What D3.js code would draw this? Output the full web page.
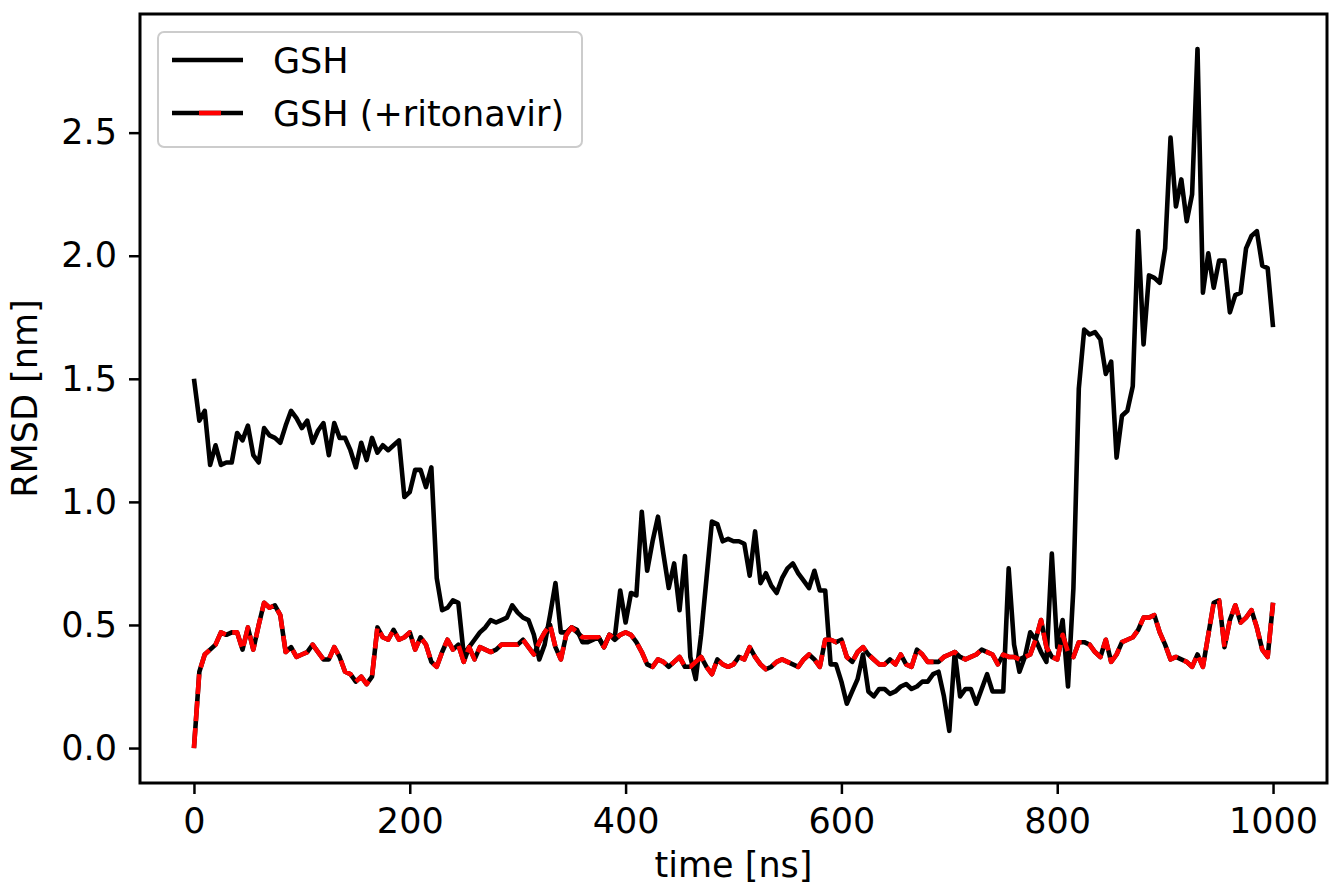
<!DOCTYPE html>
<html>
<head>
<meta charset="utf-8">
<script src="https://cdn.jsdelivr.net/npm/d3@7"></script>
<style>
  body { margin: 0; background: #fff; }
  text { font-family: "DejaVu Sans", sans-serif; }
</style>
</head>
<body>
<script>
// time axis: one sample every 5 ns
var timeStep = 5;
var xTicks = [0, 200, 400, 600, 800, 1000];
var yTicks = [0.0, 0.5, 1.0, 1.5, 2.0, 2.5];
var seriesNames = ['GSH', 'GSH (+ritonavir)'];

var gsh = [
  1.50, 1.33, 1.37, 1.15, 1.23, 1.15, 1.16, 1.16, 1.28, 1.25,
  1.31, 1.19, 1.16, 1.30, 1.27, 1.26, 1.24, 1.31, 1.37, 1.34,
  1.30, 1.33, 1.24, 1.29, 1.32, 1.19, 1.32, 1.26, 1.26, 1.21,
  1.14, 1.24, 1.17, 1.26, 1.20, 1.23, 1.21, 1.23, 1.25, 1.02,
  1.04, 1.13, 1.13, 1.06, 1.14, 0.69, 0.56, 0.57, 0.60, 0.59,
  0.38, 0.41, 0.44, 0.47, 0.49, 0.52, 0.51, 0.52, 0.53, 0.58,
  0.55, 0.53, 0.52, 0.46, 0.36, 0.42, 0.54, 0.67, 0.47, 0.47,
  0.49, 0.48, 0.43, 0.43, 0.44, 0.45, 0.41, 0.46, 0.45, 0.64,
  0.51, 0.63, 0.62, 0.96, 0.72, 0.84, 0.94, 0.79, 0.65, 0.75,
  0.56, 0.78, 0.37, 0.28, 0.46, 0.69, 0.92, 0.91, 0.84, 0.85,
  0.84, 0.84, 0.83, 0.70, 0.88, 0.67, 0.71, 0.66, 0.63, 0.69,
  0.73, 0.75, 0.71, 0.68, 0.65, 0.72, 0.64, 0.64, 0.34, 0.34,
  0.27, 0.18, 0.23, 0.28, 0.38, 0.23, 0.21, 0.24, 0.24, 0.22,
  0.23, 0.25, 0.26, 0.24, 0.25, 0.27, 0.27, 0.30, 0.31, 0.21,
  0.07, 0.39, 0.21, 0.24, 0.24, 0.18, 0.24, 0.30, 0.23, 0.23,
  0.23, 0.73, 0.42, 0.31, 0.37, 0.47, 0.44, 0.39, 0.35, 0.79,
  0.41, 0.52, 0.25, 0.65, 1.46, 1.70, 1.68, 1.69, 1.66, 1.52,
  1.57, 1.18, 1.35, 1.37, 1.47, 2.10, 1.64, 1.92, 1.91, 1.89,
  2.03, 2.48, 2.20, 2.31, 2.14, 2.25, 2.84, 1.85, 2.01, 1.87,
  1.98, 1.98, 1.77, 1.84, 1.85, 2.03, 2.08, 2.10, 1.96, 1.95,
  1.71
];

var gshRitonavir = [
  0.00, 0.31, 0.38, 0.40, 0.42, 0.47, 0.46, 0.47, 0.47, 0.40,
  0.49, 0.40, 0.50, 0.59, 0.57, 0.58, 0.54, 0.39, 0.41, 0.37,
  0.38, 0.39, 0.42, 0.39, 0.36, 0.36, 0.41, 0.37, 0.31, 0.30,
  0.27, 0.29, 0.26, 0.29, 0.49, 0.45, 0.44, 0.48, 0.44, 0.45,
  0.47, 0.40, 0.45, 0.42, 0.35, 0.33, 0.39, 0.44, 0.40, 0.42,
  0.35, 0.41, 0.36, 0.41, 0.40, 0.39, 0.40, 0.42, 0.42, 0.42,
  0.42, 0.44, 0.41, 0.38, 0.43, 0.47, 0.50, 0.41, 0.36, 0.46,
  0.49, 0.47, 0.45, 0.45, 0.45, 0.45, 0.41, 0.46, 0.44, 0.46,
  0.47, 0.46, 0.43, 0.39, 0.34, 0.33, 0.36, 0.35, 0.33, 0.35,
  0.37, 0.33, 0.33, 0.35, 0.37, 0.33, 0.30, 0.36, 0.34, 0.33,
  0.34, 0.37, 0.36, 0.41, 0.37, 0.34, 0.32, 0.33, 0.35, 0.36,
  0.35, 0.34, 0.33, 0.36, 0.38, 0.36, 0.33, 0.44, 0.44, 0.43,
  0.44, 0.37, 0.35, 0.39, 0.41, 0.38, 0.36, 0.34, 0.34, 0.36,
  0.34, 0.38, 0.34, 0.33, 0.40, 0.38, 0.35, 0.35, 0.35, 0.37,
  0.38, 0.39, 0.37, 0.36, 0.37, 0.38, 0.40, 0.39, 0.38, 0.34,
  0.38, 0.37, 0.37, 0.36, 0.37, 0.38, 0.44, 0.52, 0.41, 0.37,
  0.36, 0.46, 0.39, 0.37, 0.43, 0.43, 0.42, 0.39, 0.37, 0.44,
  0.35, 0.38, 0.43, 0.44, 0.45, 0.48, 0.53, 0.53, 0.54, 0.47,
  0.42, 0.36, 0.37, 0.36, 0.35, 0.33, 0.38, 0.33, 0.46, 0.59,
  0.60, 0.41, 0.52, 0.58, 0.51, 0.53, 0.56, 0.49, 0.40, 0.37,
  0.59
];

window.document.addEventListener('DOMContentLoaded', init, false);

var width = 1329, height = 889;
var plot = { left: 140, right: 1327, top: 14, bottom: 783 };
var fontSize = 35;
var lineWidth = 4.6;

function init() {
    var svg = d3.select('body').append('svg')
        .attr('width', width)
        .attr('height', height);

    var x = d3.scaleLinear().domain([-50, 1050]).range([plot.left, plot.right]);
    var y = d3.scaleLinear().domain([-0.142, 2.982]).range([plot.bottom, plot.top]);

    svg.append('clipPath').attr('id', 'plot-clip')
        .append('rect')
        .attr('x', plot.left).attr('y', plot.top)
        .attr('width', plot.right - plot.left)
        .attr('height', plot.bottom - plot.top);

    var line = d3.line()
        .x((d, i) => x(i * timeStep))
        .y((d) => y(d));

    var lines = svg.append('g').attr('clip-path', 'url(#plot-clip)');

    lines.append('path')
        .datum(gsh)
        .attr('d', line)
        .attr('fill', 'none')
        .attr('stroke', '#000')
        .attr('stroke-width', lineWidth)
        .attr('stroke-linejoin', 'round');

    // ritonavir run: black line under a red dashed line
    lines.append('path')
        .datum(gshRitonavir)
        .attr('d', line)
        .attr('fill', 'none')
        .attr('stroke', '#000')
        .attr('stroke-width', lineWidth)
        .attr('stroke-linejoin', 'round');

    lines.append('path')
        .datum(gshRitonavir)
        .attr('d', line)
        .attr('fill', 'none')
        .attr('stroke', '#ff0000')
        .attr('stroke-width', lineWidth)
        .attr('stroke-dasharray', '20,7')
        .attr('stroke-linejoin', 'round');

    // axes
    var xAxis = svg.append('g')
        .attr('transform', `translate(0, ${plot.bottom})`)
        .call(d3.axisBottom(x).tickValues(xTicks).tickSize(11).tickPadding(14)
            .tickFormat(d3.format('d')));
    var yAxis = svg.append('g')
        .attr('transform', `translate(${plot.left}, 0)`)
        .call(d3.axisLeft(y).tickValues(yTicks).tickSize(11).tickPadding(12)
            .tickFormat(d3.format('.1f')));

    [xAxis, yAxis].forEach(function (ax) {
        ax.select('.domain').remove();
        ax.selectAll('.tick line').attr('stroke', '#000').attr('stroke-width', 2.5);
        ax.selectAll('.tick text')
            .attr('fill', '#000')
            .style('font-size', fontSize + 'px')
            .style('font-family', '"DejaVu Sans", sans-serif');
    });

    // frame
    svg.append('rect')
        .attr('x', plot.left).attr('y', plot.top)
        .attr('width', plot.right - plot.left)
        .attr('height', plot.bottom - plot.top)
        .attr('fill', 'none')
        .attr('stroke', '#000')
        .attr('stroke-width', 3);

    svg.append('text')
        .attr('x', (plot.left + plot.right) / 2)
        .attr('y', 877)
        .attr('text-anchor', 'middle')
        .style('font-size', fontSize + 'px')
        .text('time [ns]');

    svg.append('text')
        .attr('transform', `translate(37, ${(plot.top + plot.bottom) / 2}) rotate(-90)`)
        .attr('text-anchor', 'middle')
        .style('font-size', fontSize + 'px')
        .text('RMSD [nm]');

    // legend
    var legend = svg.append('g');
    legend.append('rect')
        .attr('x', 158).attr('y', 32)
        .attr('width', 424).attr('height', 115)
        .attr('rx', 6)
        .attr('fill', '#fff')
        .attr('fill-opacity', 0.8)
        .attr('stroke', '#cccccc')
        .attr('stroke-width', 2);

    var rows = legend.selectAll('.row')
        .data(seriesNames)
        .enter()
            .append('g')
            .attr('class', 'row')
            .attr('transform', (d, i) => `translate(0, ${60 + i * 53})`);

    rows.append('line')
        .attr('x1', 172).attr('x2', 243)
        .attr('stroke', '#000')
        .attr('stroke-width', lineWidth);

    rows.filter((d, i) => i === 1)
        .append('line')
        .attr('x1', 199).attr('x2', 221)
        .attr('stroke', '#ff0000')
        .attr('stroke-width', lineWidth);

    rows.append('text')
        .attr('x', 273)
        .attr('y', 13)
        .style('font-size', fontSize + 'px')
        .text((d) => d);
}
</script>
</body>
</html>
